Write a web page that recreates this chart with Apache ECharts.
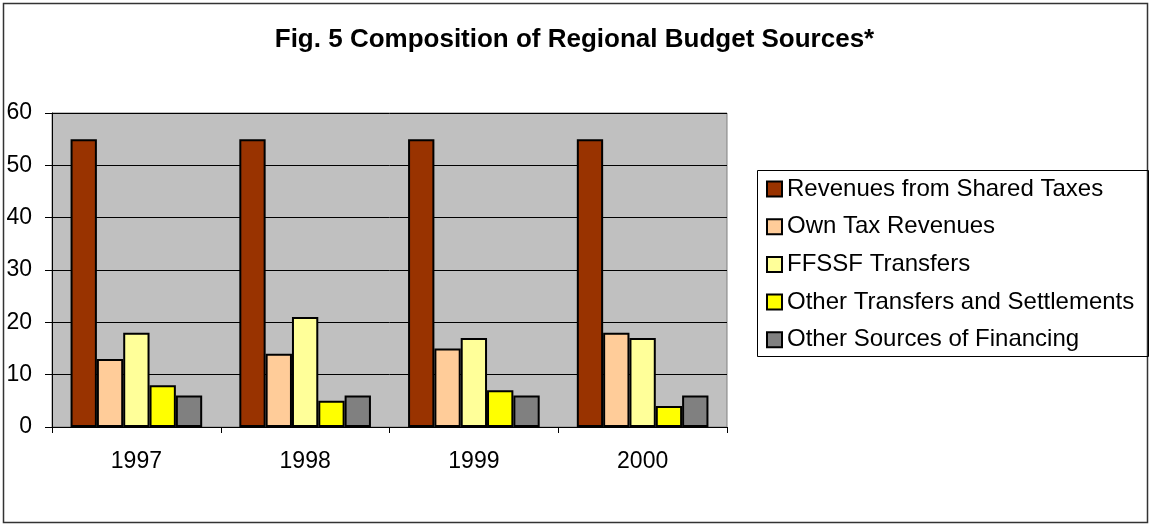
<!DOCTYPE html>
<html><head><meta charset="utf-8">
<script src="https://cdn.jsdelivr.net/npm/echarts@6/dist/echarts.min.js"></script>
<style>html,body{margin:0;padding:0;background:#fff}#c{width:1149px;height:525px}</style>
</head><body><div id="c"></div>
<script>
const categories = ['1997', '1998', '1999', '2000'];
const sharedTaxes = [55, 55, 55, 55];
const ownTax = [13, 14, 15, 18];
const ffssf = [18, 21, 17, 17];
const otherTransfers = [8, 5, 7, 4];
const otherSources = [6, 6, 6, 6];
const seriesNames = ['Revenues from Shared Taxes', 'Own Tax Revenues', 'FFSSF Transfers', 'Other Transfers and Settlements', 'Other Sources of Financing'];
const seriesData = [sharedTaxes, ownTax, ffssf, otherTransfers, otherSources];
const colors = ['#993300', '#FFCC99', '#FFFF99', '#FFFF00', '#808080'];
const titleText = 'Fig. 5 Composition of Regional Budget Sources*';

const chart = echarts.init(document.getElementById('c'), null, {renderer: 'canvas'});
const font = '"Liberation Sans", Arial, sans-serif';
chart.setOption({
  animation: false,
  backgroundColor: '#fff',
  title: {
    text: titleText, left: 'center', top: 27, padding: 0,
    textStyle: {fontFamily: font, fontWeight: 'bold', fontSize: 26, color: '#000'}
  },
  legend: {
    orient: 'vertical', left: 766, top: 177, padding: 0,
    icon: 'rect',
    itemWidth: 15, itemHeight: 15, itemGap: 13.7,
    textStyle: {fontFamily: font, fontSize: 24, color: '#000', lineHeight: 24},
    data: seriesNames
  },
  grid: {left: 52, right: 422, top: 113, bottom: 98, show: true, backgroundColor: '#C0C0C0', borderColor: '#808080', borderWidth: 1},
  xAxis: {
    type: 'category', data: categories,
    axisLine: {lineStyle: {color: '#000', width: 1}},
    axisTick: {show: true, length: 6, lineStyle: {color: '#000'}},
    axisLabel: {fontFamily: font, fontSize: 23, color: '#000', margin: 23}
  },
  yAxis: {
    type: 'value', min: 0, max: 60, interval: 10,
    axisLine: {show: true, lineStyle: {color: '#000'}},
    axisTick: {show: true, length: 7, lineStyle: {color: '#000'}},
    axisLabel: {fontFamily: font, fontSize: 23, color: '#000', margin: 20},
    splitLine: {lineStyle: {color: '#000', width: 1}}
  },
  series: seriesData.map((d, i) => ({
    name: seriesNames[i], type: 'bar', data: d,
    barGap: '0%', barCategoryGap: '22%',
    itemStyle: {color: colors[i], borderColor: '#000', borderWidth: 2}
  })),
  graphic: [
    {type: 'rect', silent: true, z: -1, shape: {x: 3.5, y: 3.5, width: 1144, height: 519}, style: {fill: null, stroke: '#333', lineWidth: 1.5}},
    {type: 'rect', silent: true, shape: {x: 757.5, y: 170.5, width: 391, height: 186}, style: {fill: null, stroke: '#000', lineWidth: 1}}
  ]
});
</script></body></html>
